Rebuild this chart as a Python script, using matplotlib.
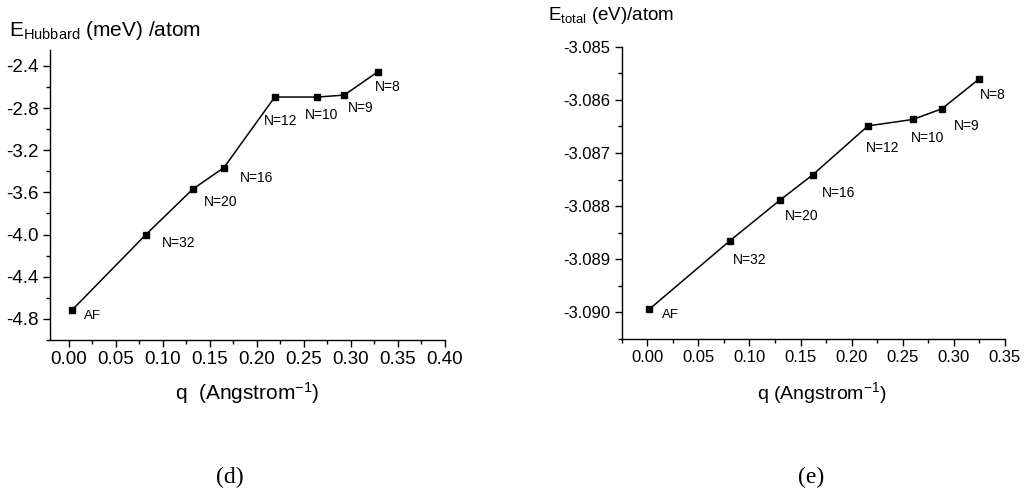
import matplotlib.pyplot as plt
from matplotlib.ticker import MultipleLocator, FormatStrFormatter

plt.rcParams['font.family'] = ['Liberation Sans', 'DejaVu Sans']
plt.rcParams['mathtext.fontset'] = 'custom'
plt.rcParams['mathtext.rm'] = 'Liberation Sans'
plt.rcParams['mathtext.it'] = 'Liberation Sans'

labels = ["AF", "N=32", "N=20", "N=16", "N=12", "N=10", "N=9", "N=8"]

# (d) Hubbard energy
q_d = [0.003, 0.082, 0.132, 0.165, 0.219, 0.264, 0.293, 0.329]
e_hub = [-4.72, -4.00, -3.568, -3.365, -2.696, -2.696, -2.677, -2.454]
# label offsets in pixels (dx, dy) relative to marker
off_d = [(12, -6), (16, -8), (11, -13), (16, -10), (-11, -24), (-12, -18), (4, -13), (-3, -15)]

# (e) total energy
q_e = [0.002, 0.081, 0.1297, 0.162, 0.216, 0.2597, 0.2882, 0.3246]
e_tot = [-3.08994, -3.08865, -3.08789, -3.08741, -3.08649, -3.08637, -3.08617, -3.08561]
off_e = [(13, -6), (3, -19), (5, -16), (9, -18), (-2, -22), (-2, -19), (12, -17), (1, -16)]

fig = plt.figure(figsize=(10.24, 4.93), dpi=100)
ax1 = fig.add_axes([0.0488, 0.3103, 0.3857, 0.5882])
ax2 = fig.add_axes([0.6071, 0.3124, 0.3743, 0.5929])


def style(ax, tsize):
    for s in ("top", "right"):
        ax.spines[s].set_visible(False)
    for s in ("left", "bottom"):
        ax.spines[s].set_linewidth(1.0)
    ax.tick_params(which="major", direction="out", length=5, width=1, labelsize=tsize, pad=3)
    ax.tick_params(which="minor", direction="out", length=3, width=1)


for ax, x, y, offs, tsize in [(ax1, q_d, e_hub, off_d, 13.5), (ax2, q_e, e_tot, off_e, 12)]:
    ax.plot(x, y, color="black", lw=1.1, marker="s", ms=4.5)
    for xi, yi, lab, (dx, dy) in zip(x, y, labels, offs):
        ax.annotate(lab, (xi, yi), xytext=(dx, dy), textcoords="offset pixels",
                    fontsize=9.5 if lab == "AF" else 10, va="center", ha="left")
    style(ax, tsize)

ax1.set_xlim(-0.02, 0.40)
ax1.set_ylim(-5.0, -2.25)
ax1.xaxis.set_major_locator(MultipleLocator(0.05))
ax1.xaxis.set_minor_locator(MultipleLocator(0.025))
ax1.yaxis.set_major_locator(MultipleLocator(0.4))
ax1.yaxis.set_minor_locator(MultipleLocator(0.2))
ax1.xaxis.set_major_formatter(FormatStrFormatter("%.2f"))
ax1.yaxis.set_major_formatter(FormatStrFormatter("%.1f"))

ax2.set_xlim(-0.025, 0.35)
ax2.set_ylim(-3.0905, -3.085)
ax2.xaxis.set_major_locator(MultipleLocator(0.05))
ax2.xaxis.set_minor_locator(MultipleLocator(0.025))
ax2.yaxis.set_major_locator(MultipleLocator(0.001))
ax2.yaxis.set_minor_locator(MultipleLocator(0.0005))
ax2.xaxis.set_major_formatter(FormatStrFormatter("%.2f"))
ax2.yaxis.set_major_formatter(FormatStrFormatter("%.3f"))

# axis titles
fig.text(9 / 1024, 1 - 30 / 493, r"$\mathrm{E_{Hubbard}}$ (meV) /atom", fontsize=15, va="center", ha="left")
fig.text(548 / 1024, 1 - 15 / 493, r"$\mathrm{E_{total}}$ (eV)/atom", fontsize=13.5, va="center", ha="left")
fig.text(247 / 1024, 1 - 393 / 493, r"q  (Angstrom$^{\mathrm{-1}}$)", fontsize=15, va="center", ha="center")
fig.text(822 / 1024, 1 - 393 / 493, r"q (Angstrom$^{\mathrm{-1}}$)", fontsize=14, va="center", ha="center")

# panel captions
fig.text(230 / 1024, 1 - 477 / 493, "(d)", fontsize=17, family="Liberation Serif", va="center", ha="center")
fig.text(811 / 1024, 1 - 477 / 493, "(e)", fontsize=17, family="Liberation Serif", va="center", ha="center")

fig.savefig("out.png", dpi=100)
